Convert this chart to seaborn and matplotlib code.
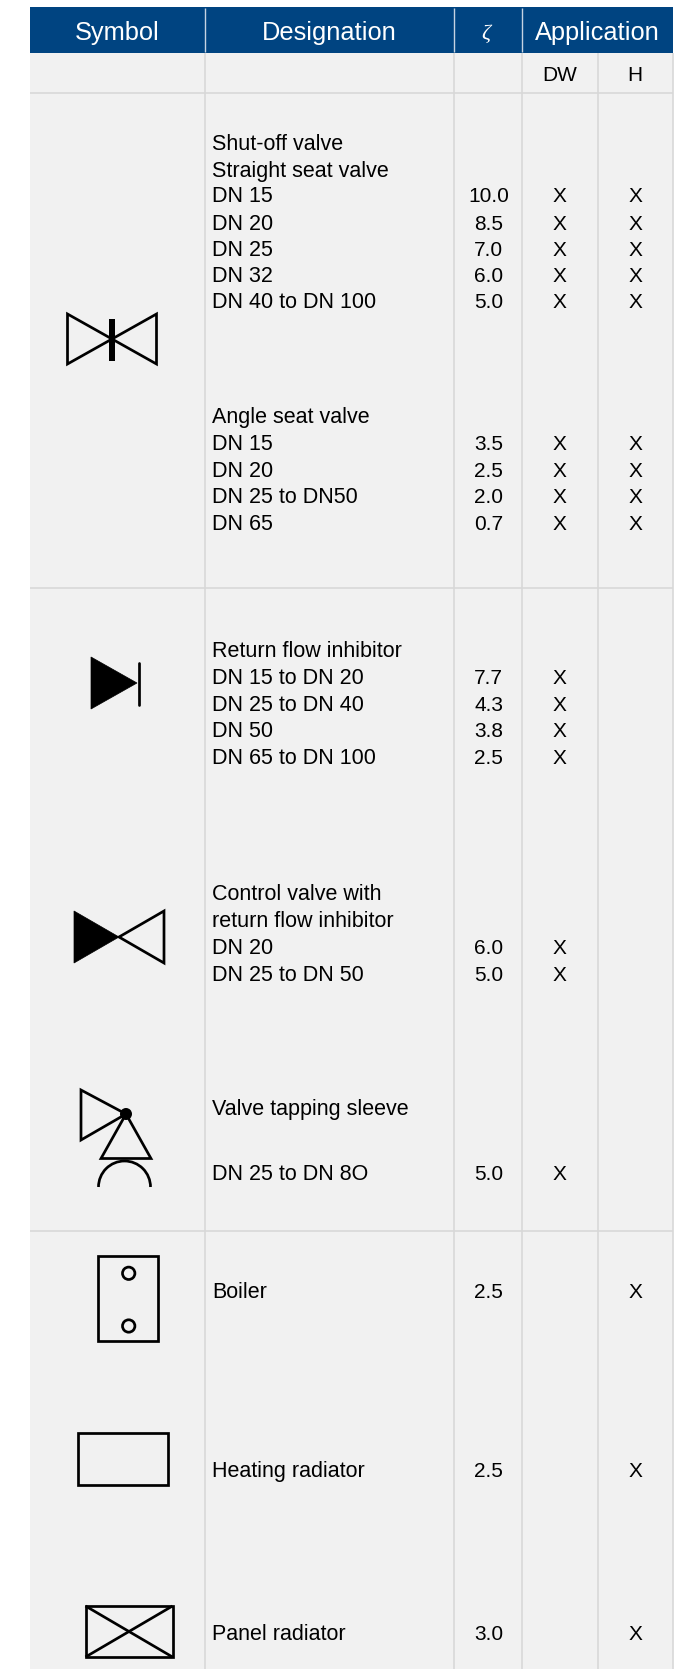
import numpy as np
import matplotlib
matplotlib.use("Agg")
import matplotlib.pyplot as plt
from matplotlib.patches import Arc, Circle, Polygon, Rectangle
import seaborn as sns

headers = ["Symbol", "Designation", "ζ", "Application"]
sub_headers = ["DW", "H"]

designation = ["Shut-off valve", "Straight seat valve", "DN 15", "DN 20", "DN 25", "DN 32",
               "DN 40 to DN 100", "Angle seat valve", "DN 15", "DN 20", "DN 25 to DN50", "DN 65",
               "Return flow inhibitor", "DN 15 to DN 20", "DN 25 to DN 40", "DN 50", "DN 65 to DN 100",
               "Control valve with", "return flow inhibitor", "DN 20", "DN 25 to DN 50",
               "Valve tapping sleeve", "DN 25 to DN 8O", "Boiler", "Heating radiator", "Panel radiator"]
zeta = ["", "", "10.0", "8.5", "7.0", "6.0", "5.0", "", "3.5", "2.5", "2.0", "0.7",
        "", "7.7", "4.3", "3.8", "2.5", "", "", "6.0", "5.0", "", "5.0", "2.5", "2.5", "3.0"]
dw = ["", "", "X", "X", "X", "X", "X", "", "X", "X", "X", "X",
      "", "X", "X", "X", "X", "", "", "X", "X", "", "X", "", "", ""]
h = ["", "", "X", "X", "X", "X", "X", "", "X", "X", "X", "X",
     "", "", "", "", "", "", "", "", "", "", "", "X", "X", "X"]
row_y = [143, 170, 196, 223, 249, 276, 302, 416, 443, 470, 496, 523,
         650, 677, 704, 730, 757, 893, 920, 947, 974, 1108, 1173, 1291, 1470, 1633]

col_x = [30, 204.5, 453.5, 522, 597.5, 673]
section_y = [93, 588, 1231]

BLUE = "#004481"
CELL = "#f1f1f1"
GRID = "#d8d8d8"
LW = 1.95


def outline(ax, pts, fill="none", lw=LW):
    ax.add_patch(Polygon(pts, closed=True, fc=fill, ec="black", lw=lw, joinstyle="miter"))


def draw_symbols(ax):
    # shut-off valve
    outline(ax, [(67.5, 314), (156.5, 364), (156.5, 314), (67.5, 364)])
    ax.add_patch(Rectangle((109, 319), 6, 42, fc="black", ec="none"))
    # return flow inhibitor
    outline(ax, [(91, 657), (137, 683), (91, 709)], fill="black", lw=0.5)
    ax.plot([138.7, 138.7], [663, 705], color="black", lw=LW)
    # control valve
    outline(ax, [(74, 911), (119, 937), (74, 963)], fill="black", lw=0.5)
    outline(ax, [(119, 937), (164, 911), (164, 963)])
    # tapping sleeve
    outline(ax, [(81, 1090), (126, 1114), (81, 1140)])
    outline(ax, [(126, 1114), (151, 1158.5), (101, 1158.5)])
    ax.add_patch(Circle((126, 1114), 6, fc="black", ec="none"))
    ax.add_patch(Arc((124.5, 1187), 52, 52, theta1=180, theta2=360, color="black", lw=LW))
    # boiler
    ax.add_patch(Rectangle((98, 1256), 60, 85, fc="none", ec="black", lw=LW))
    for cy in [1273.3, 1326]:
        ax.add_patch(Circle((128.7, cy), 6.2, fc="none", ec="black", lw=LW))
    # heating radiator
    ax.add_patch(Rectangle((78, 1433), 89.5, 51.5, fc="none", ec="black", lw=LW))
    # panel radiator
    ax.add_patch(Rectangle((85.5, 1606), 87, 51, fc="none", ec="black", lw=LW))
    ax.plot([85.5, 172.5], [1606, 1657], color="black", lw=LW, solid_capstyle="butt")
    ax.plot([85.5, 172.5], [1657, 1606], color="black", lw=LW, solid_capstyle="butt")


def main():
    sns.set_theme(style="white")
    plt.rcParams["font.family"] = ["Liberation Sans", "DejaVu Sans"]
    fig = plt.figure(figsize=(6.9, 16.69), dpi=100)
    ax = fig.add_axes([0, 0, 1, 1])
    ax.set_xlim(0, 690)
    ax.set_ylim(1669, 0)
    ax.axis("off")

    # body and header band
    ax.add_patch(Rectangle((col_x[0], 53), col_x[-1] - col_x[0], 1669 - 53, fc=CELL, ec="none"))
    ax.add_patch(Rectangle((col_x[0], 7.5), col_x[-1] - col_x[0], 45.5, fc=BLUE, ec="none"))

    # grid, no line on the left edge
    for x in col_x[1:]:
        ax.plot([x, x], [53, 1669], color=GRID, lw=1.2, solid_capstyle="butt")
    for y in section_y:
        ax.plot([col_x[0], col_x[-1]], [y, y], color=GRID, lw=1.2, solid_capstyle="butt")
    for x in col_x[1:4]:
        ax.plot([x, x], [8, 52], color="#c6d3e2", lw=1.0, solid_capstyle="butt")

    # header text
    header_x = [(col_x[0] + col_x[1]) / 2, (col_x[1] + col_x[2]) / 2,
                (col_x[2] + col_x[3]) / 2, (col_x[3] + col_x[5]) / 2]
    for x, label in zip(header_x, headers):
        if label == "ζ":
            ax.text(x - 1.5, 39, label, color="white", fontsize=16, ha="center", va="baseline",
                    family="Liberation Serif", style="italic")
        else:
            ax.text(x, 40, label, color="white", fontsize=18.3, ha="center", va="baseline")
    ax.text((col_x[3] + col_x[4]) / 2, 81, sub_headers[0], color="black", fontsize=15,
            ha="center", va="baseline")
    ax.text((col_x[4] + col_x[5]) / 2, 81, sub_headers[1], color="black", fontsize=15,
            ha="center", va="baseline")

    # rows
    zeta_x = (col_x[2] + col_x[3]) / 2
    dw_x = (col_x[3] + col_x[4]) / 2
    h_x = (col_x[4] + col_x[5]) / 2
    for y, name, z, d, hh in zip(row_y, designation, zeta, dw, h):
        ax.text(212, y + 6.5, name, color="black", fontsize=15.5, ha="left", va="baseline")
        ax.text(zeta_x + 1, y + 6.5, z, color="black", fontsize=15, ha="center", va="baseline")
        ax.text(dw_x, y + 6.5, d, color="black", fontsize=15, ha="center", va="baseline")
        ax.text(h_x, y + 6.5, hh, color="black", fontsize=15, ha="center", va="baseline")

    draw_symbols(ax)
    sns.despine(ax=ax, left=True, bottom=True)
    fig.savefig("out.png", dpi=100, facecolor="white")
    plt.close(fig)


if __name__ == "__main__":
    main()
